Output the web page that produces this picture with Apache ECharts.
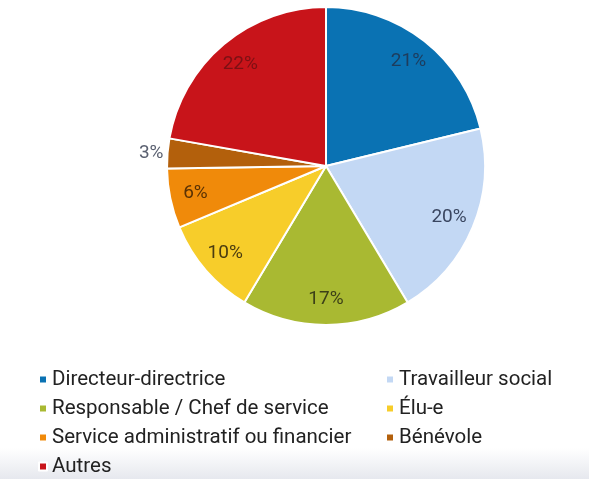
<!DOCTYPE html>
<html>
<head>
<meta charset="utf-8">
<script src="https://cdn.jsdelivr.net/npm/echarts@6/dist/echarts.min.js"></script>
<style>html,body{margin:0;padding:0;background:#fff}#c{width:589px;height:479px}</style>
</head>
<body>
<div id="c"></div>
<script>
const categories = ["Directeur-directrice","Travailleur social","Responsable / Chef de service","Élu-e","Service administratif ou financier","Bénévole","Autres"];
const values = [21, 20, 17, 10, 6, 3, 22];
const colors = ["#0a72b3","#c3d8f4","#a9b932","#f7cd2a","#f08a0a","#b3600c","#c8141a"];
const labelColors = ["#1e3c5c","#3a4660","#3c4018","#4a3c10","#5a3204","#5a6070","#7c1014"];
const legendLeft = ["Directeur-directrice","Responsable / Chef de service","Service administratif ou financier","Autres"];
const legendRight = ["Travailleur social","Élu-e","Bénévole"];

const chart = echarts.init(document.getElementById('c'), null, {renderer:'canvas'});
const center = [326, 166];
const R = 159;
const mainData = categories.map((n,i)=>({
  name:n, value:values[i],
  itemStyle:{color:colors[i]},
  label: n==="Bénévole" ? {show:true, position:'outside', color:labelColors[i], distanceToLabelLine:0} : {show:false},
  labelLine:{show:false, length:4, length2:0}
}));
const labelData = categories.map((n,i)=>({
  name:n, value:values[i],
  label:{show: n!=="Bénévole", color:labelColors[i]}
}));
const legendBase = {
  orient:'vertical', top:369, height:120, itemWidth:8, itemHeight:8, icon:'rect', itemGap:8, padding:0,
  textStyle:{fontFamily:'Roboto', fontSize:20.5, color:'#222', lineHeight:21},
  selectedMode:false
};
chart.setOption({
  backgroundColor:'#fff',
  animation:false,
  graphic:[{type:'rect', left:0, top:448, shape:{width:589, height:31}, z:-10,
    style:{fill:new echarts.graphic.LinearGradient(0,0,0,1,[{offset:0,color:'#ffffff'},{offset:1,color:'#e6e8ee'}])}}],
  legend:[
    Object.assign({}, legendBase, {left:38, data:legendLeft}),
    Object.assign({}, legendBase, {left:385, data:legendRight})
  ],
  series:[
    {type:'pie', name:'main', center:center, radius:[0,R], startAngle:90, clockwise:true,
     itemStyle:{borderColor:'#fff', borderWidth:2},
     label:{fontFamily:'Roboto', fontSize:19, formatter:'{c}%'},
     emphasis:{disabled:true},
     data:mainData},
    {type:'pie', name:'labels', center:center, radius:[R*0.64,R], startAngle:90, clockwise:true,
     silent:true, legendHoverLink:false,
     itemStyle:{color:'rgba(0,0,0,0)', borderWidth:0},
     label:{position:'inside', fontFamily:'Roboto', fontSize:19, formatter:'{c}%'},
     labelLine:{show:false},
     emphasis:{disabled:true},
     data:labelData}
  ]
});
</script>
</body>
</html>
